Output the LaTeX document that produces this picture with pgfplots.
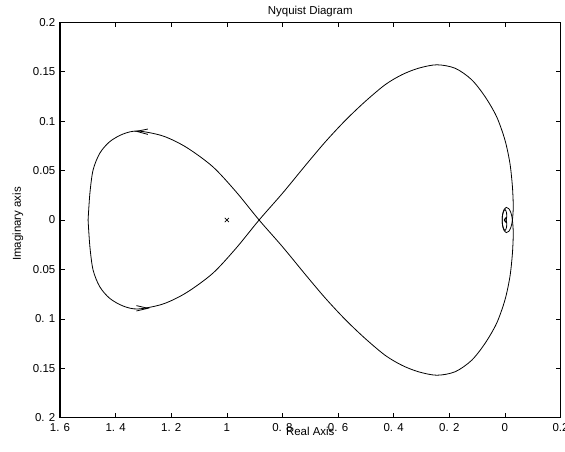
\documentclass[border=0pt]{standalone}
\usepackage{fontspec}
\setmainfont{Liberation Sans}
\usepackage{pgfplots}
\pgfplotsset{compat=1.18}

% one branch of the frequency response (the other is its mirror image)
\pgfplotstableread{
re      im
-1.499   0.000
-1.4925 -0.027
-1.481  -0.0506
-1.457  -0.0675
-1.421  -0.0793
-1.373  -0.087
-1.320  -0.090
-1.230  -0.085
-1.146  -0.0736
-1.051  -0.054
-0.967  -0.0286
-0.884   0.000
-0.800   0.027
-0.716   0.0557
-0.645   0.0793
-0.573   0.101
-0.502   0.120
-0.430   0.137
-0.370   0.147
-0.311   0.1535
-0.245   0.157
-0.179   0.1535
-0.120   0.142
-0.072   0.125
-0.030   0.1046
 0.000   0.081
 0.018   0.0574
 0.027   0.0337
 0.030   0.0135
 0.027   0.000
 0.022  -0.007
 0.014  -0.0115
 0.005  -0.0127
-0.004  -0.010
-0.009  -0.004
-0.0095  0.003
-0.006   0.008
 0.001   0.0105
 0.006   0.007
 0.006   0.002
 0.002  -0.002
-0.002   0.000
 0.000   0.000
}\branchpos

\pgfplotstableread{
re      im
-1.499   0.000
-1.4925  0.027
-1.481   0.0506
-1.457   0.0675
-1.421   0.0793
-1.373   0.087
-1.320   0.090
-1.230   0.085
-1.146   0.0736
-1.051   0.054
-0.967   0.0286
-0.884   0.000
-0.800  -0.027
-0.716  -0.0557
-0.645  -0.0793
-0.573  -0.101
-0.502  -0.120
-0.430  -0.137
-0.370  -0.147
-0.311  -0.1535
-0.245  -0.157
-0.179  -0.1535
-0.120  -0.142
-0.072  -0.125
-0.030  -0.1046
 0.000  -0.081
 0.018  -0.0574
 0.027  -0.0337
 0.030  -0.0135
 0.027   0.000
 0.022   0.007
 0.014   0.0115
 0.005   0.0127
-0.004   0.010
-0.009   0.004
-0.0095 -0.003
-0.006  -0.008
 0.001  -0.0105
 0.006  -0.007
 0.006  -0.002
 0.002   0.002
-0.002   0.000
 0.000   0.000
}\branchneg

\begin{document}
\begin{tikzpicture}
\begin{axis}[
  scale only axis,
  width=375.4pt, height=296.6pt,
  at={(0,0)}, anchor=south west,
  xmin=-1.6, xmax=0.2, ymin=-0.2, ymax=0.2,
  xtick={-1.6,-1.4,-1.2,-1,-0.8,-0.6,-0.4,-0.2,0,0.2},
  xticklabels={1. 6,1. 4,1. 2,1,0. 8,0. 6,0. 4,0. 2,0,0.2},
  ytick={-0.2,-0.15,-0.1,-0.05,0,0.05,0.1,0.15,0.2},
  yticklabels={0. 2,0.15,0. 1,0.05,0,0.05,0.1,0.15,0.2},
  tick align=inside,
  major tick length=3.75pt,
  every tick/.style={black, line width=0.5pt},
  axis line style={line width=0.9pt},
  font=\fontsize{8.6}{10}\selectfont,
  xticklabel style={anchor=base, yshift=-10.5pt},
  every axis title shift=0pt,
  title={Nyquist Diagram},
  title style={at={(axis description cs:0.5,1)}, anchor=base, yshift=6.2pt},
  xlabel={Real Axis},
  xlabel style={at={(axis description cs:0.5,0)}, anchor=base, yshift=-13pt},
  ylabel={Imaginary axis},
  ylabel style={at={(axis description cs:-0.078,0.49)}, anchor=base, rotate=0},
  clip=false,
]
\addplot[black, line width=0.6pt, smooth, tension=0.5] table[x=re, y=im] {\branchpos};
\addplot[black, line width=0.6pt, smooth, tension=0.5] table[x=re, y=im] {\branchneg};
% direction arrows
\addplot[black, line width=0.6pt] coordinates {(-1.284,0.0920) (-1.325,0.0897) (-1.284,0.0866)};
\addplot[black, line width=0.6pt] coordinates {(-1.325,-0.0866) (-1.284,-0.0893) (-1.325,-0.0920)};
% critical point
\addplot[black, only marks, mark=x, mark size=2.2pt, mark options={line width=0.5pt}] coordinates {(-1,0)};
\end{axis}
\pgfresetboundingbox
\useasboundingbox (-45pt,-25pt) rectangle (378.75pt,313.3pt);
\end{tikzpicture}
\end{document}
